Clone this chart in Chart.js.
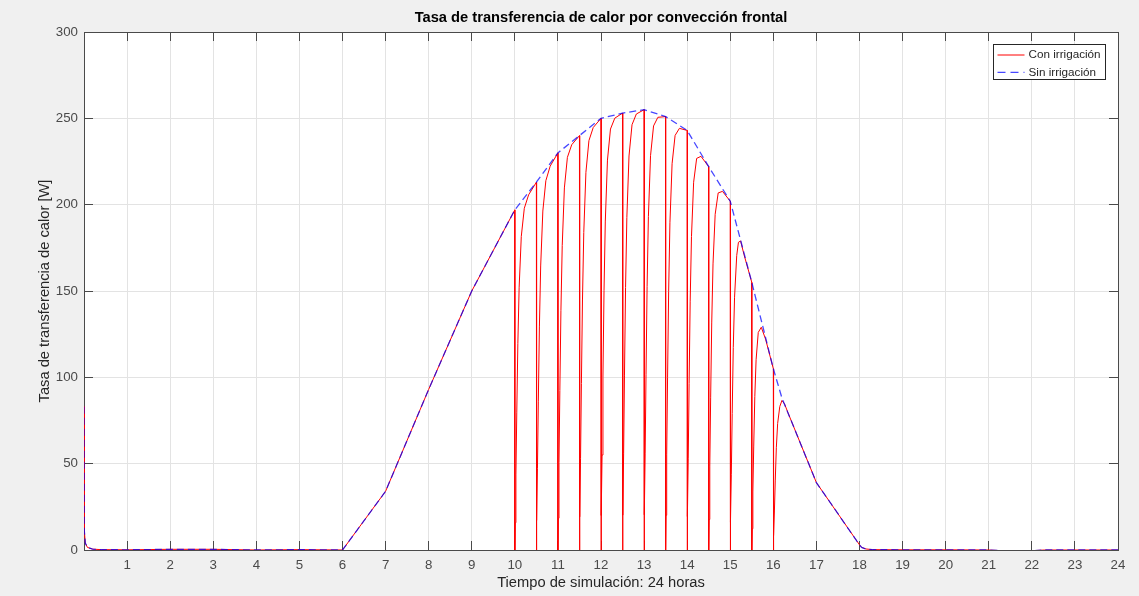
<!DOCTYPE html>
<html>
<head>
<meta charset="utf-8">
<title>Tasa de transferencia de calor por convección frontal</title>
<script src="https://cdn.jsdelivr.net/npm/chart.js@4.4.1/dist/chart.umd.min.js"></script>
<style>
  html, body { margin: 0; padding: 0; background: #f0f0f0; }
  #grafica { display: block; }
</style>
</head>
<body>
<canvas id="grafica" width="1139" height="596"></canvas>
<script>
// Sin irrigación: tiempo [h] y calor [W]
var tiempoSin = [0, 0.005, 0.03, 0.08, 0.2, 0.4, 1, 2, 3, 4, 5, 6, 7, 8, 9,
    10, 10.5, 11, 11.5, 12, 12.5, 13, 13.5, 14, 14.5, 15, 15.5, 16, 16.2, 17,
    18, 18.05, 18.15, 18.3, 19, 20, 21, 21.3, 22, 22.3, 23, 24];
var calorSin = [83, 12, 4, 1.5, 0.5, 0.2, 0.1, 0.4, 0.4, 0, 0.2, 0, 34, 93, 150,
    197, 213, 230, 240, 250, 253, 255, 251, 243, 222, 202, 155, 105, 88, 39,
    3, 1.5, 0.6, 0.2, 0.1, 0.1, 0, -0.4, -0.4, 0, 0, 0];

// Con irrigación: cada media hora entre las 10 y las 16 el riego lleva el calor a cero
var tiempoCon = [0, 0.005, 0.03, 0.08, 0.2, 0.4, 1, 2, 3, 4, 5, 6, 7, 8, 9,
    10, 10, 10.01, 10.025, 10.045, 10.07, 10.1, 10.15, 10.22, 10.32,
    10.5, 10.5, 10.51, 10.525, 10.545, 10.57, 10.6, 10.65, 10.72, 10.82,
    11, 11, 11.01, 11.025, 11.045, 11.07, 11.1, 11.15, 11.22, 11.32,
    11.5, 11.5, 11.51, 11.525, 11.545, 11.57, 11.6, 11.65, 11.72, 11.82,
    12, 12, 12.01, 12.025, 12.045, 12.07, 12.1, 12.15, 12.22, 12.32,
    12.5, 12.5, 12.51, 12.525, 12.545, 12.57, 12.6, 12.65, 12.72, 12.82,
    13, 13, 13.01, 13.025, 13.045, 13.07, 13.1, 13.15, 13.22, 13.32,
    13.5, 13.5, 13.51, 13.525, 13.545, 13.57, 13.6, 13.65, 13.72, 13.82,
    14, 14, 14.01, 14.025, 14.045, 14.07, 14.1, 14.15, 14.22, 14.32,
    14.5, 14.5, 14.51, 14.525, 14.545, 14.57, 14.6, 14.65, 14.72, 14.82,
    15, 15, 15.01, 15.025, 15.045, 15.07, 15.1, 15.15, 15.19, 15.24, 15.32,
    15.5, 15.5, 15.51, 15.525, 15.545, 15.57, 15.6, 15.65, 15.72, 15.82,
    16, 16, 16.01, 16.025, 16.045, 16.07, 16.1, 16.15, 16.2, 16.26, 16.34,
    17, 18, 18.05, 18.15, 18.3, 19, 20, 21, 21.3, 22, 22.3, 23, 24];
var calorCon = [83, 12, 4, 1.5, 0.5, 0.2, 0.1, 0.4, 0.4, 0, 0.2, 0, 34, 93, 150,
    197, 0, 15.8, 43.5, 79.4, 119.5, 152.2, 181.6, 197.9, 205.7,
    213, 0, 17.1, 47.1, 85.8, 129.2, 164.5, 196.3, 213.9, 222.3,
    230, 0, 18.4, 50.7, 92.4, 138.8, 176.3, 209.7, 227.4, 234.7,
    240, 0, 19.2, 52.9, 96.4, 144.8, 183.9, 218.7, 237.1, 244.7,
    250, 0, 20.0, 55.0, 100.1, 150.2, 190.5, 225.8, 243.8, 250.1,
    253, 0, 20.2, 55.7, 101.3, 152.0, 192.6, 228.2, 246.3, 252.5,
    255, 0, 20.4, 56.1, 101.8, 152.6, 193.2, 228.4, 245.6, 250.6,
    251, 0, 20.1, 55.1, 100.1, 149.9, 189.5, 223.7, 240.1, 244.2,
    243, 0, 19.4, 53.2, 96.4, 144.1, 181.5, 213.0, 226.8, 228.0,
    222, 0, 17.7, 48.6, 88.1, 131.5, 165.7, 194.4, 206.8, 207.7,
    202, 0, 16.1, 43.9, 79.1, 117.2, 146.4, 170.5, 178.2, 179.0, 171.0,
    155, 0, 12.3, 33.6, 60.2, 88.8, 110.2, 126.0, 129.0, 122.1,
    105, 0, 8.3, 22.6, 40.5, 59.5, 73.3, 83.1, 86.6, 84.6, 79.5,
    39, 3, 1.5, 0.6, 0.2, 0.1, 0.1, 0, -0.4, -0.4, 0, 0, 0];

var horas = [1, 2, 3, 4, 5, 6, 7, 8, 9, 10, 11, 12, 13, 14, 15, 16, 17, 18, 19, 20, 21, 22, 23, 24];
var nivelesW = [0, 50, 100, 150, 200, 250, 300];

var FUENTE = '"Liberation Sans", Arial, Helvetica, sans-serif';
var EJE = '#4a4a4a';
var ROJO = '#ff0000';
var AZUL = 'rgba(0, 0, 255, 0.72)';

function puntos(t, q) {
    return t.map(function(x, i) { return { x: x, y: q[i] }; });
}

function alinear(p) {
    return Math.round(p - 0.5) + 0.5;
}

// fondo gris, caja de ejes con marcas hacia dentro y leyenda dentro del area
var marco = {
    id: 'marco',
    beforeDraw: function(chart) {
        var c = chart.ctx, a = chart.chartArea;
        c.save();
        c.fillStyle = '#f0f0f0';
        c.fillRect(0, 0, chart.width, chart.height);
        c.fillStyle = '#ffffff';
        c.fillRect(a.left, a.top, a.right - a.left, a.bottom - a.top);
        c.restore();
    },
    beforeDatasetsDraw: function(chart) {
        var c = chart.ctx, a = chart.chartArea;
        var sx = chart.scales.x, sy = chart.scales.y;
        var largo = 9;
        c.save();
        c.strokeStyle = EJE;
        c.lineWidth = 1;
        c.beginPath();
        horas.forEach(function(h) {
            var px = alinear(sx.getPixelForValue(h));
            c.moveTo(px, a.bottom); c.lineTo(px, a.bottom - largo);
            c.moveTo(px, a.top); c.lineTo(px, a.top + largo);
        });
        nivelesW.forEach(function(v) {
            var py = alinear(sy.getPixelForValue(v));
            c.moveTo(a.left, py); c.lineTo(a.left + largo, py);
            c.moveTo(a.right, py); c.lineTo(a.right - largo, py);
        });
        c.stroke();
        c.strokeRect(alinear(a.left), alinear(a.top),
            alinear(a.right) - alinear(a.left), alinear(a.bottom) - alinear(a.top));
        c.restore();
    },
    afterDatasetsDraw: function(chart) {
        var c = chart.ctx, a = chart.chartArea;
        var x = alinear(a.right - 125), y = alinear(a.top + 12);
        var filas = [
            { texto: 'Con irrigación', color: ROJO, guion: [], ancho: 1 },
            { texto: 'Sin irrigación', color: AZUL, guion: [8, 5], ancho: 1.3 }
        ];
        c.save();
        c.fillStyle = '#ffffff';
        c.fillRect(x, y, 112, 35);
        c.strokeStyle = '#262626';
        c.lineWidth = 1;
        c.strokeRect(x, y, 112, 35);
        c.font = '11.7px ' + FUENTE;
        c.textBaseline = 'middle';
        filas.forEach(function(f, i) {
            var fy = y + 10.5 + i * 17.3;
            c.strokeStyle = f.color;
            c.lineWidth = f.ancho;
            c.setLineDash(f.guion);
            c.beginPath();
            c.moveTo(x + 4, fy);
            c.lineTo(x + 31, fy);
            c.stroke();
            c.setLineDash([]);
            c.fillStyle = '#262626';
            c.fillText(f.texto, x + 35, fy);
        });
        c.restore();
    }
};

var grafica = new Chart(document.getElementById('grafica'), {
    type: 'line',
    data: {
        datasets: [{
            label: 'Con irrigación',
            data: puntos(tiempoCon, calorCon),
            borderColor: ROJO,
            borderWidth: 1,
            pointRadius: 0,
            tension: 0,
            order: 2
        }, {
            label: 'Sin irrigación',
            data: puntos(tiempoSin, calorSin),
            borderColor: AZUL,
            borderWidth: 1.3,
            borderDash: [7, 4],
            pointRadius: 0,
            tension: 0,
            order: 1
        }]
    },
    options: {
        responsive: false,
        animation: false,
        devicePixelRatio: 1,
        events: [],
        layout: { padding: { top: 8.96, right: 21, left: 0, bottom: 0 } },
        plugins: {
            legend: { display: false },
            tooltip: { enabled: false },
            title: {
                display: true,
                text: 'Tasa de transferencia de calor por convección frontal',
                fullSize: false,
                color: '#000000',
                font: { family: FUENTE, size: 14.7, weight: 'bold' },
                padding: { top: 0, bottom: 5.4 }
            }
        },
        scales: {
            x: {
                type: 'linear',
                min: 0,
                max: 24,
                afterFit: function(s) { s.height = 46; },
                afterBuildTicks: function(s) {
                    s.ticks = [0].concat(horas).map(function(h) { return { value: h }; });
                },
                ticks: {
                    autoSkip: false,
                    maxRotation: 0,
                    padding: 7,
                    color: EJE,
                    font: { family: FUENTE, size: 13.3 },
                    callback: function(v) { return v === 0 ? '' : v; }
                },
                grid: { color: '#e3e3e3', lineWidth: 1, drawTicks: false },
                border: { display: false },
                title: {
                    display: true,
                    text: 'Tiempo de simulación: 24 horas',
                    color: '#262626',
                    font: { family: FUENTE, size: 14.7 },
                    padding: { top: 0, bottom: 4.2 }
                }
            },
            y: {
                min: 0,
                max: 300,
                afterFit: function(s) { s.width = 84; },
                afterBuildTicks: function(s) {
                    s.ticks = nivelesW.map(function(v) { return { value: v }; });
                },
                ticks: {
                    padding: 6,
                    color: EJE,
                    font: { family: FUENTE, size: 13.3 }
                },
                grid: { color: '#e3e3e3', lineWidth: 1, drawTicks: false },
                border: { display: false },
                title: {
                    display: true,
                    text: 'Tasa de transferencia de calor [W]',
                    color: '#262626',
                    font: { family: FUENTE, size: 14.7 },
                    padding: { top: 36.2, bottom: 0 }
                }
            }
        }
    },
    plugins: [marco]
});
</script>
</body>
</html>
